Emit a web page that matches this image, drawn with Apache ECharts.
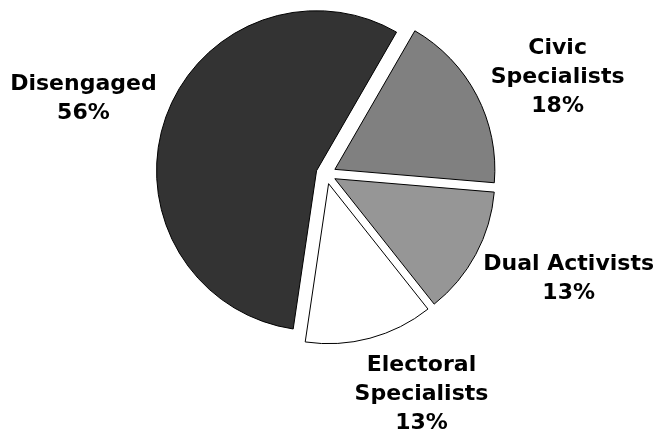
<!DOCTYPE html>
<html>
<head>
<meta charset="utf-8">
<script src="https://cdn.jsdelivr.net/npm/echarts@6/dist/echarts.min.js"></script>
<style>
  html, body { margin: 0; padding: 0; background: #ffffff; }
  #chart { width: 660px; height: 431px; }
</style>
</head>
<body>
<div id="chart"></div>
<script>
// Segments, listed clockwise starting just right of 12 o'clock
const categories = ['Civic Specialists', 'Dual Activists', 'Electoral Specialists', 'Disengaged'];
const labelNames = ['Civic\nSpecialists', 'Dual Activists', 'Electoral\nSpecialists', 'Disengaged'];
const shares = [18, 13, 13, 56];
const fills = ['#808080', '#969696', '#ffffff', '#333333'];

// pie geometry
const CX = 326, CY = 174, R = 160, START = 60, EXPLODE = 10;
// label placement: distance of the box edge from the centre, plus hand nudges
const LABEL_R = 190;
const labelNudge = [[4, 11], [0, 1], [29, -5], [6, -3]];
const FONT = 'bold 22px "DejaVu Sans"';
const LINE_H = 29;

const total = shares.reduce((a, b) => a + b, 0);

// measure label boxes so they can sit just outside the rim
const ctx = document.createElement('canvas').getContext('2d');
ctx.font = FONT;

const labelTexts = shares.map((v, i) => labelNames[i] + '\n' + v + '%');
let cum = 0;
const labelElems = shares.map((v, i) => {
  const deg = START - 360 * (cum + v / 2) / total;
  cum += v;
  const rad = deg * Math.PI / 180;
  const dx = Math.cos(rad), dy = -Math.sin(rad);
  const lines = labelTexts[i].split('\n');
  const w = Math.max(...lines.map(s => ctx.measureText(s).width));
  const h = lines.length * LINE_H;
  return {
    type: 'text',
    x: CX + dx * LABEL_R + dx * w / 2 + labelNudge[i][0],
    y: CY + dy * LABEL_R + dy * h / 2 + labelNudge[i][1],
    silent: true,
    style: {
      text: labelTexts[i],
      font: FONT,
      lineHeight: LINE_H,
      fill: '#000000',
      align: 'center',
      verticalAlign: 'middle'
    }
  };
});

const chart = echarts.init(document.getElementById('chart'), null, { renderer: 'canvas' });
chart.setOption({
  animation: false,
  backgroundColor: '#ffffff',
  graphic: labelElems,
  series: [{
    type: 'pie',
    center: [CX, CY],
    radius: R,
    startAngle: START,
    clockwise: true,
    selectedMode: 'multiple',
    selectedOffset: EXPLODE,
    itemStyle: { borderColor: '#000000', borderWidth: 1 },
    select: { itemStyle: { borderColor: '#000000', borderWidth: 1 } },
    emphasis: { disabled: true },
    labelLine: { show: false },
    label: { show: false },
    data: categories.map((name, i) => ({
      name: name,
      value: shares[i],
      selected: true,
      itemStyle: { color: fills[i] },
      select: { itemStyle: { color: fills[i] } }
    }))
  }]
});
</script>
</body>
</html>
